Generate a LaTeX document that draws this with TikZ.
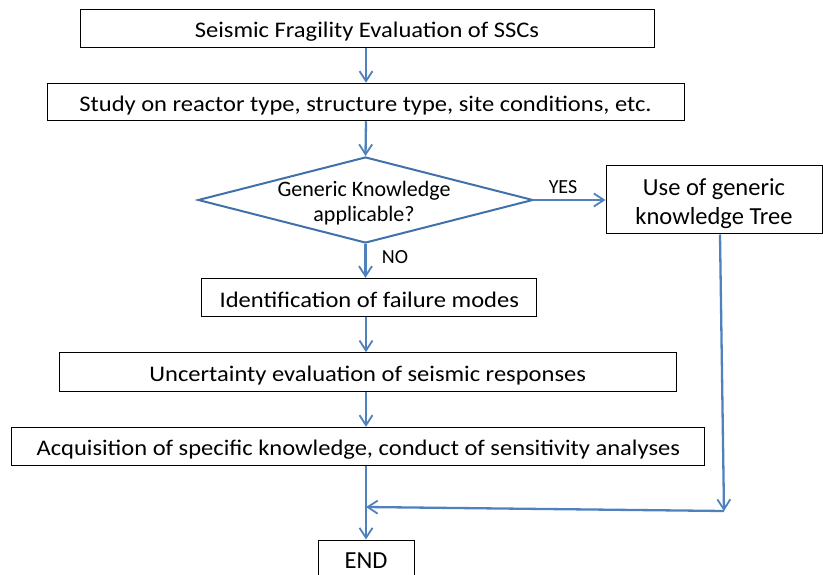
\documentclass[tikz,border=0pt]{standalone}
\usepackage{fontspec}
\setmainfont{Carlito}
\newfontfamily\widefont{Carlito}[FakeStretch=1.1]
\usetikzlibrary{arrows.meta,shapes.geometric}
\definecolor{flowblue}{RGB}{79,129,189}
\definecolor{diablue}{RGB}{65,112,170}
\begin{document}
\begin{tikzpicture}[x=1pt,y=-1pt,
  every node/.style={inner sep=0pt},
  stepbox/.style={draw=black, line width=1pt, fill=white, align=center},
  widebox/.style={stepbox, font=\widefont\fontsize{22.3}{27}\selectfont,
    text height=19pt, text depth=0pt},
  plainbox/.style={stepbox, font=\fontsize{24.5}{29}\selectfont},
  flow/.style={draw=flowblue, line width=2.3pt,
    -{Straight Barb[length=10pt,width=13pt,line width=1.8pt]}},
  lbl/.style={font=\fontsize{20}{24}\selectfont, anchor=base}]
\useasboundingbox (0,0) rectangle (823,575);

% process boxes
\node[widebox, minimum width=574, minimum height=38] (eval) at (367,28.3) {Seismic Fragility Evaluation of SSCs};
\node[widebox, minimum width=637, minimum height=37.5] (study) at (365.5,102) {Study on reactor type, structure type, site conditions, etc.};

% decision
\node[diamond, draw=diablue, line width=2pt, minimum width=335, minimum height=86] (dec) at (365.5,200) {};
\node[align=center, font=\fontsize{22}{25}\selectfont] (dectext) at (364,202.2)
  {\rule{0pt}{20pt}Generic Knowledge\\applicable?\rule[-6pt]{0pt}{6pt}};

\node[plainbox, minimum width=216, minimum height=68] (generic) at (714,200)
  {\rule{0pt}{27pt}Use of generic\\knowledge Tree\rule[-6pt]{0pt}{6pt}};

\node[widebox, minimum width=335, minimum height=38.4] (ident) at (369.3,297.5) {Identification of failure modes};
\node[widebox, minimum width=617, minimum height=39] (uncert) at (367.7,372.2) {Uncertainty evaluation of seismic responses};
\node[widebox, minimum width=693, minimum height=37.7] (acq) at (358.3,446.2) {Acquisition of specific knowledge, conduct of sensitivity analyses};
\node[plainbox, minimum width=96, minimum height=50, text height=16pt, text depth=9.4pt] (end) at (366,565) {END};

% branch labels
\node[lbl] (yes) at (563,193.3) {YES};
\node[lbl] (no) at (395,264) {NO};

% merge points
\coordinate (gtop) at (720,234);
\coordinate (gbot) at (724,511);
\coordinate (join) at (366,507);

% connectors
\draw[flow] (eval.south -| 366,0) -- (study.north -| 366,0);
\draw[flow] (study.south -| 366,0) -- (dec.north);
\draw[flow] (dec.east) -- (generic.west);
\draw[flow] (dec.south) -- (ident.north -| dec.south);
\draw[flow] (ident.south -| 366,0) -- (uncert.north -| 366,0);
\draw[flow] (uncert.south -| 366,0) -- (acq.north -| 366,0);
\draw[flow] (acq.south -| 366,0) -- (end.north);
\draw[flow] (generic.south -| gtop) -- (gbot);
\draw[flow] (gbot) -- (join);
\end{tikzpicture}
\end{document}
